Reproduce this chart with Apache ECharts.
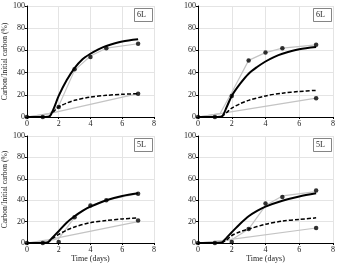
<!DOCTYPE html>
<html>
<head>
<meta charset="utf-8">
<script src="https://cdn.jsdelivr.net/npm/echarts@6/dist/echarts.min.js"></script>
<style>
  html, body { margin: 0; padding: 0; background: #fff; }
  #chart { width: 338px; height: 264px; }
</style>
</head>
<body>
<div id="chart"></div>
<script>
// panel labels
var panelLabels = ['6L', '6L', '5L', '5L'];
var xTicks = [0, 2, 4, 6, 8];
var yTicks = [0, 20, 40, 60, 80, 100];

// measured points [day, %]
var dots1 = [[0,0],[1,0],[2,9],[3,43],[4,54],[5,62],[7,66],[7,21]];
var dots2 = [[0,0],[1,0],[2,19],[3,51],[4,58],[5,62],[7,65],[7,17]];
var dots3 = [[0,0],[1,0],[2,1],[3,24],[4,35],[5,40],[7,46],[7,21]];
var dots4 = [[0,0],[1,0],[2,1],[3,13],[4,37],[5,43],[7,49],[7,14]];

// grey reference lines
var greyUp1 = [[0,0],[1.4,3],[2,10],[3,42],[4,55],[5,62],[7,66]];
var greyLow1 = [[0,0],[1.4,3],[7,21]];
var greyUp2 = [[0,0],[1.3,3],[2,22],[3,51],[4,58],[5,62],[7,65]];
var greyLow2 = [[0,0],[1.3,3],[7,17]];
var greyUp3 = [[0,0],[1.3,2],[2,4],[3,24],[4,35],[5,40],[7,46]];
var greyLow3 = [[0,0],[1.3,3],[7,20]];
var greyUp4 = [[0,0],[1.3,2],[2,3],[3,13],[4,35],[5,44],[7,48]];
var greyLow4 = [[0,0],[1.3,2],[7,14]];

// model curves (solid / dashed)
var solid1 = [[0,0],[1,0],[1.4,0.5],[1.7,8],[2,19],[2.5,33],[3,44],[3.5,52],[4,57],[4.5,61],[5,64],[6,68],[7,70]];
var dashed1 = [[1.4,0],[1.7,5],[2,9],[2.5,12.5],[3,15],[4,18],[5,19.5],[6,20.5],[7,21]];
var solid2 = [[0,0],[1,0],[1.4,0.5],[1.7,9],[2,19],[2.5,30],[3,39],[3.5,45],[4,50],[4.5,54],[5,57],[6,61],[7,63]];
var dashed2 = [[1.4,0],[1.7,4],[2,8],[2.5,12],[3,15],[4,19],[5,21.5],[6,23],[7,24]];
var solid3 = [[0,0],[1,0],[1.3,0.5],[1.6,5],[2,11],[2.5,19],[3,25],[3.5,30],[4,34],[5,40],[6,44],[7,46.5]];
var dashed3 = [[1.3,0],[1.6,4],[2,8],[2.5,12],[3,15],[4,19],[5,21],[6,22.5],[7,23.5]];
var solid4 = [[0,0],[1,0],[1.4,0.5],[1.7,5],[2,10],[2.5,18],[3,25],[3.5,30],[4,34],[5,39.5],[6,43.5],[7,46.5]];
var dashed4 = [[1.4,0],[1.7,3],[2,7],[2.5,10.5],[3,13],[4,17.5],[5,20.5],[6,22],[7,23.5]];

var panels = [
  { dots: dots1, up: greyUp1, low: greyLow1, solid: solid1, dashed: dashed1 },
  { dots: dots2, up: greyUp2, low: greyLow2, solid: solid2, dashed: dashed2 },
  { dots: dots3, up: greyUp3, low: greyLow3, solid: solid3, dashed: dashed3 },
  { dots: dots4, up: greyUp4, low: greyLow4, solid: solid4, dashed: dashed4 }
];

var FONT = 'Liberation Serif';
var grids = [
  { left: 19, top: 6, width: 135, height: 111 },
  { left: 198, top: 6, width: 135, height: 111 },
  { left: 20, top: 136, width: 134, height: 108 },
  { left: 198, top: 136, width: 135, height: 108 }
];

var xAxes = [], yAxes = [], series = [], titles = [];
grids.forEach(function (g, i) {
  xAxes.push({
    type: 'value', gridIndex: i, min: xTicks[0], max: xTicks[xTicks.length - 1], interval: 2,
    name: i >= 2 ? 'Time (days)' : '', nameLocation: 'middle', nameGap: 12,
    nameTextStyle: { fontFamily: FONT, fontSize: 8, color: '#222' },
    axisLine: { lineStyle: { color: '#000', width: 1 } },
    axisTick: { length: 2, lineStyle: { color: '#000' } },
    axisLabel: { fontFamily: FONT, fontSize: 8, color: '#222', margin: 3,
      showMinLabel: true, showMaxLabel: true, hideOverlap: false },
    splitLine: { show: true, lineStyle: { color: '#e4e4e4', width: 1 } }
  });
  yAxes.push({
    type: 'value', gridIndex: i, min: yTicks[0], max: yTicks[yTicks.length - 1], interval: 20,
    name: i % 2 === 0 ? 'Carbon/Initial carbon (%)' : '', nameLocation: 'middle', nameGap: 14,
    nameTextStyle: { fontFamily: FONT, fontSize: 7.5, color: '#222' },
    axisLine: { show: true, lineStyle: { color: '#000', width: 1 } },
    axisTick: { length: 2, lineStyle: { color: '#000' } },
    axisLabel: { fontFamily: FONT, fontSize: 8, color: '#222', margin: 2,
      showMinLabel: true, showMaxLabel: true },
    splitLine: { show: true, lineStyle: { color: '#e4e4e4', width: 1 } }
  });
  titles.push({
    text: panelLabels[i],
    left: g.left + g.width - 20, top: g.top + 2,
    padding: [3, 7, 3, 3],
    borderColor: '#666', borderWidth: 0.8,
    textStyle: { fontFamily: FONT, fontSize: 8, fontWeight: 'normal', color: '#222' }
  });
  var p = panels[i];
  series.push(
    { type: 'line', xAxisIndex: i, yAxisIndex: i, data: p.up, symbol: 'none',
      lineStyle: { color: '#c4c4c4', width: 1.2 }, z: 2 },
    { type: 'line', xAxisIndex: i, yAxisIndex: i, data: p.low, symbol: 'none',
      lineStyle: { color: '#c4c4c4', width: 1.2 }, z: 2 },
    { type: 'line', xAxisIndex: i, yAxisIndex: i, data: p.dashed, symbol: 'none', smooth: 0.3,
      lineStyle: { color: '#000', width: 1.5, type: [4, 2] }, z: 3 },
    { type: 'line', xAxisIndex: i, yAxisIndex: i, data: p.solid, symbol: 'none', smooth: 0.3,
      lineStyle: { color: '#000', width: 2 }, z: 4 },
    { type: 'scatter', xAxisIndex: i, yAxisIndex: i, data: p.dots, symbolSize: 4.5,
      itemStyle: { color: '#000' }, z: 5 }
  );
});

var myChart = echarts.init(document.getElementById('chart'));
myChart.setOption({
  animation: false,
  title: titles,
  grid: grids,
  xAxis: xAxes,
  yAxis: yAxes,
  series: series
});
</script>
</body>
</html>
